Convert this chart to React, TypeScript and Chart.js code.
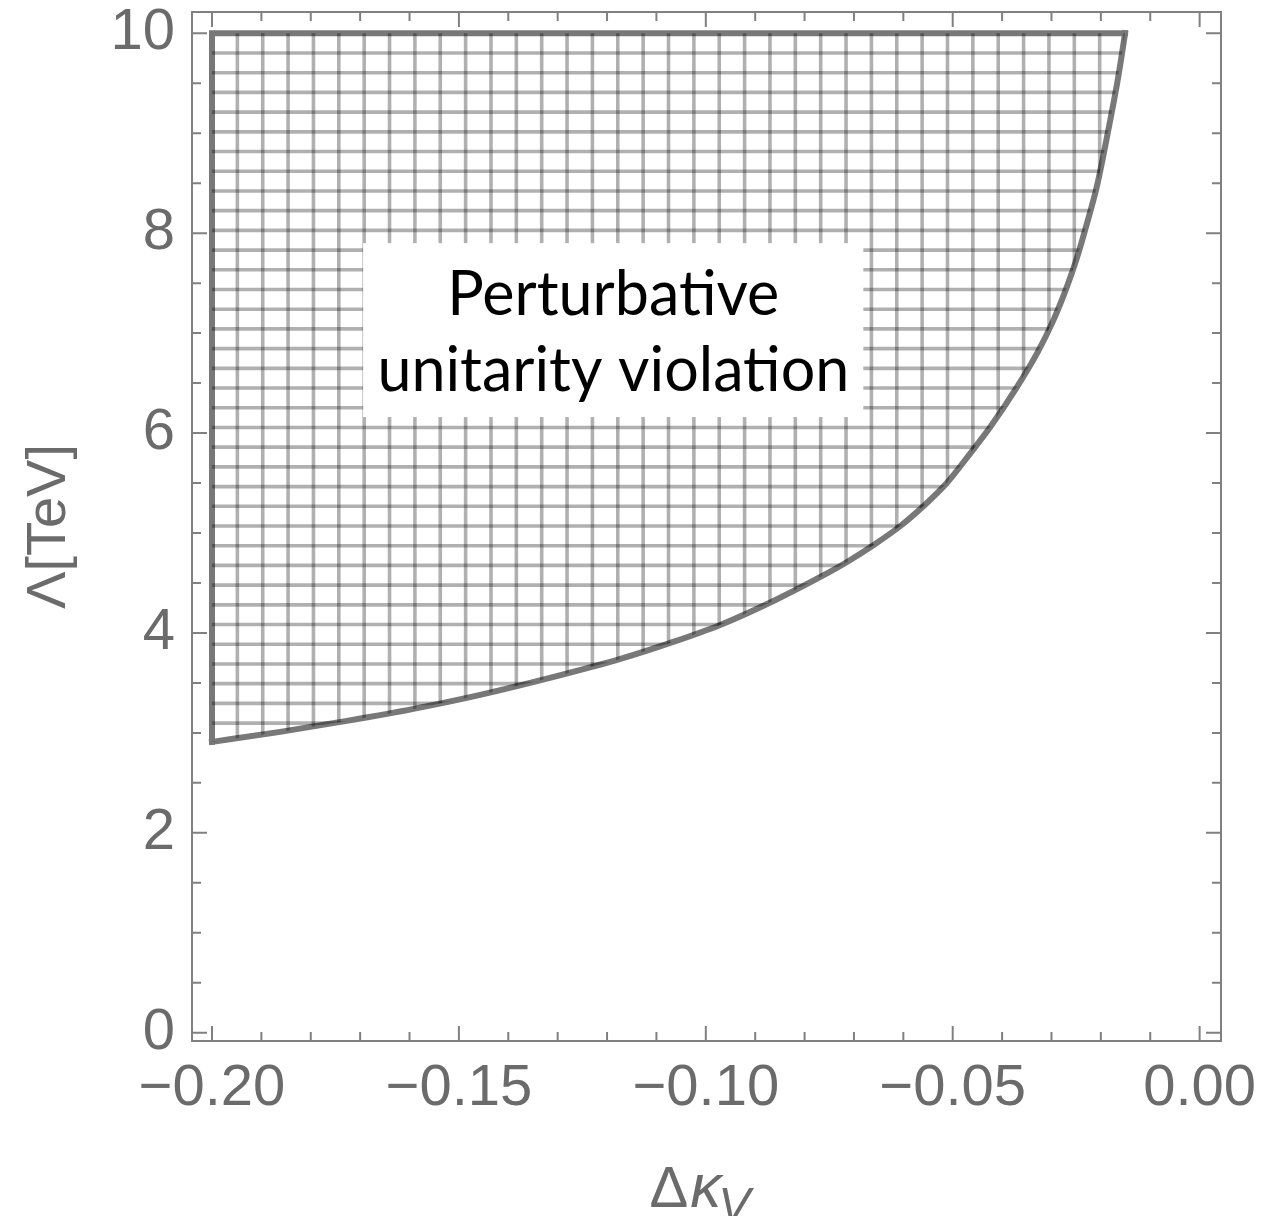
import React, { useEffect, useRef } from 'react';
import { Chart, registerables } from 'chart.js';

Chart.register(...registerables);

// Unitarity bound: Δκ_V (x) vs Λ [TeV] (y)
const kappaV = [
  -0.2, -0.1862, -0.1727, -0.1592, -0.1457, -0.13, -0.1173, -0.1072, -0.0971, -0.0863,
  -0.0768, -0.0714, -0.066, -0.0606, -0.0559, -0.0512, -0.0464, -0.0424, -0.037, -0.0329,
  -0.0296, -0.0269, -0.0248, -0.0228, -0.0208, -0.0194, -0.0181, -0.0167, -0.0159, -0.0151,
];
const lambdaTeV = [
  2.91, 3.01, 3.12, 3.24, 3.38, 3.57, 3.74, 3.9, 4.08, 4.32,
  4.56, 4.71, 4.88, 5.07, 5.27, 5.5, 5.8, 6.06, 6.46, 6.8,
  7.13, 7.46, 7.76, 8.1, 8.47, 8.8, 9.13, 9.5, 9.74, 10.0,
];
const regionTop = 10; // upper edge of the excluded region (Λ = 10 TeV)

const xMajorTicks = [-0.2, -0.15, -0.1, -0.05, 0];
const xTickLabels = ['\u22120.20', '\u22120.15', '\u22120.10', '\u22120.05', '0.00'];
const xMinorTicks = [
  -0.19, -0.18, -0.17, -0.16, -0.14, -0.13, -0.12, -0.11, -0.09, -0.08,
  -0.07, -0.06, -0.04, -0.03, -0.02, -0.01,
];
const yMajorTicks = [0, 2, 4, 6, 8, 10];
const yTickLabels = ['0', '2', '4', '6', '8', '10'];
const yMinorTicks = [0.5, 1, 1.5, 2.5, 3, 3.5, 4.5, 5, 5.5, 6.5, 7, 7.5, 8.5, 9, 9.5];

const labelLines = ['Perturbative', 'unitarity violation'];
const yTitle = '\u039B[TeV]';
const xTitleParts = ['\u0394', '\u03BA', 'V'];

// layout / style constants
const X_MIN = -0.20405;
const X_MAX = 0.00433;
const Y_MIN = -0.083;
const Y_MAX = 10.213;
const HATCH_DX = 0.005136;
const HATCH_DY = 0.1972;
const LABEL_BOX = { x0: -0.1694, x1: -0.0681, y0: 6.16, y1: 7.9 };
const LABEL_CX = -0.11873;
const LABEL_BASELINES = [7.18, 6.42];
const GRAY = '#6b6b6b';
const FRAME = '#808080';
const OUTLINE = '#787878';
const SANS = '"Liberation Sans", Arial, sans-serif';

const hatchPlugin = {
  id: 'hatch',
  afterDatasetsDraw(chart: any) {
    const { ctx, chartArea, scales } = chart;
    const x = scales.x, y = scales.y;
    ctx.save();
    ctx.beginPath();
    ctx.rect(chartArea.left, chartArea.top, chartArea.right - chartArea.left, chartArea.bottom - chartArea.top);
    ctx.clip();
    ctx.beginPath();
    kappaV.forEach((k, i) => {
      const px = x.getPixelForValue(k);
      const py = y.getPixelForValue(lambdaTeV[i]);
      if (i === 0) ctx.moveTo(px, py);
      else ctx.lineTo(px, py);
    });
    ctx.lineTo(x.getPixelForValue(kappaV[0]), y.getPixelForValue(regionTop));
    ctx.closePath();
    ctx.clip();
    ctx.strokeStyle = 'rgba(0,0,0,0.31)';
    ctx.lineWidth = 3.6;
    ctx.beginPath();
    for (let v = kappaV[0] + HATCH_DX; v < X_MAX; v += HATCH_DX) {
      const px = x.getPixelForValue(v);
      ctx.moveTo(px, chartArea.top);
      ctx.lineTo(px, chartArea.bottom);
    }
    ctx.stroke();
    ctx.beginPath();
    for (let w = regionTop - HATCH_DY; w > Y_MIN; w -= HATCH_DY) {
      const py = y.getPixelForValue(w);
      ctx.moveTo(chartArea.left, py);
      ctx.lineTo(chartArea.right, py);
    }
    ctx.stroke();
    ctx.restore();
  },
};

const labelPlugin = {
  id: 'regionLabel',
  afterDatasetsDraw(chart: any) {
    const { ctx, scales } = chart;
    const x = scales.x, y = scales.y;
    const x0 = x.getPixelForValue(LABEL_BOX.x0);
    const x1 = x.getPixelForValue(LABEL_BOX.x1);
    const yt = y.getPixelForValue(LABEL_BOX.y1);
    const yb = y.getPixelForValue(LABEL_BOX.y0);
    ctx.save();
    ctx.fillStyle = '#ffffff';
    ctx.fillRect(x0, yt, x1 - x0, yb - yt);
    ctx.fillStyle = '#000000';
    ctx.font = '61px Lato, "Open Sans", sans-serif';
    ctx.textAlign = 'center';
    ctx.textBaseline = 'alphabetic';
    const cx = x.getPixelForValue(LABEL_CX);
    labelLines.forEach((t, i) => ctx.fillText(t, cx, y.getPixelForValue(LABEL_BASELINES[i])));
    ctx.restore();
  },
};

const framePlugin = {
  id: 'frameTicks',
  afterDraw(chart: any) {
    const { ctx, chartArea, scales } = chart;
    const x = scales.x, y = scales.y;
    const { left, right, top, bottom } = chartArea;
    ctx.save();
    ctx.strokeStyle = FRAME;
    ctx.lineWidth = 2;
    ctx.strokeRect(left, top, right - left, bottom - top);
    ctx.beginPath();
    const xt = (vals: number[], len: number) => vals.forEach((v) => {
      const px = x.getPixelForValue(v);
      ctx.moveTo(px, bottom); ctx.lineTo(px, bottom - len);
      ctx.moveTo(px, top); ctx.lineTo(px, top + len);
    });
    const yt = (vals: number[], len: number) => vals.forEach((v) => {
      const py = y.getPixelForValue(v);
      ctx.moveTo(left, py); ctx.lineTo(left + len, py);
      ctx.moveTo(right, py); ctx.lineTo(right - len, py);
    });
    xt(xMajorTicks, 15);
    xt(xMinorTicks, 9);
    yt(yMajorTicks, 15);
    yt(yMinorTicks, 9);
    ctx.stroke();

    // x axis title: Δκ_V
    ctx.fillStyle = GRAY;
    ctx.textBaseline = 'alphabetic';
    ctx.textAlign = 'left';
    const fD = `58px ${SANS}`;
    const fK = `italic 62px ${SANS}`;
    const fV = `italic 48px ${SANS}`;
    ctx.font = fD; const wD = ctx.measureText(xTitleParts[0]).width;
    ctx.font = fK; const wK = ctx.measureText(xTitleParts[1]).width;
    ctx.font = fV; const wV = ctx.measureText(xTitleParts[2]).width;
    const total = wD + wK + wV;
    let sx = (left + right) / 2 - total / 2 - 6;
    const base = 1207;
    ctx.font = fD; ctx.fillText(xTitleParts[0], sx, base); sx += wD + 2;
    ctx.font = fK; ctx.fillText(xTitleParts[1], sx, base); sx += wK - 3;
    ctx.font = fV; ctx.fillText(xTitleParts[2], sx, base + 14);
    ctx.restore();
  },
};

export default function App() {
  const ref = useRef<HTMLCanvasElement>(null);
  useEffect(() => {
    document.body.style.margin = '0';
    let chart: Chart | null = null;
    let cancelled = false;
    const curve = kappaV.map((k, i) => ({ x: k, y: lambdaTeV[i] }));
    const edges = [
      { x: kappaV[kappaV.length - 1], y: regionTop },
      { x: kappaV[0], y: regionTop },
      { x: kappaV[0], y: lambdaTeV[0] },
    ];
    const make = () => {
      if (cancelled || !ref.current) return;
      chart = new Chart(ref.current, {
        type: 'scatter',
        data: {
          datasets: [
            {
              label: 'Unitarity bound',
              data: curve,
              showLine: true,
              fill: false,
              borderColor: OUTLINE,
              borderWidth: 6,
              borderCapStyle: 'square',
              pointRadius: 0,
              cubicInterpolationMode: 'monotone',
            } as any,
            {
              label: 'Region edge',
              data: edges,
              showLine: true,
              fill: false,
              borderColor: OUTLINE,
              borderWidth: 6,
              borderCapStyle: 'square',
              borderJoinStyle: 'miter',
              pointRadius: 0,
              tension: 0,
            } as any,
          ],
        },
        options: {
          animation: false,
          responsive: false,
          maintainAspectRatio: false,
          layout: { padding: { left: 0, top: 12, right: 42, bottom: 0 } },
          plugins: { legend: { display: false }, tooltip: { enabled: false } },
          scales: {
            x: {
              type: 'linear',
              position: 'bottom',
              min: X_MIN,
              max: X_MAX,
              afterBuildTicks: (s: any) => { s.ticks = xMajorTicks.map((v) => ({ value: v })); },
              afterFit: (s: any) => { s.height = 175; s.paddingLeft = 0; s.paddingRight = 0; },
              ticks: {
                callback: (_v: any, i: number) => xTickLabels[i],
                font: { size: 58, family: SANS },
                color: GRAY,
                padding: 13,
                maxRotation: 0,
                minRotation: 0,
                autoSkip: false,
              },
              grid: { display: false, drawTicks: false },
              border: { display: false },
            },
            y: {
              type: 'linear',
              position: 'left',
              min: Y_MIN,
              max: Y_MAX,
              afterBuildTicks: (s: any) => { s.ticks = yMajorTicks.map((v) => ({ value: v })); },
              afterFit: (s: any) => { s.width = 192; s.paddingTop = 0; s.paddingBottom = 0; },
              ticks: {
                callback: (_v: any, i: number) => yTickLabels[i],
                font: { size: 58, family: SANS },
                color: GRAY,
                padding: 17,
                autoSkip: false,
              },
              title: {
                display: true,
                text: yTitle,
                color: GRAY,
                font: { size: 56, family: SANS },
                padding: { top: 16, bottom: 0 },
              },
              grid: { display: false, drawTicks: false },
              border: { display: false },
            },
          },
        },
        plugins: [hatchPlugin, labelPlugin, framePlugin],
      });
    };
    const fs: any = (document as any).fonts;
    if (fs && fs.load) {
      Promise.all([
        fs.load('61px Lato'),
        fs.load(`58px ${SANS}`),
        fs.load(`italic 58px ${SANS}`),
      ]).then(make, make);
    } else make();
    return () => {
      cancelled = true;
      if (chart) chart.destroy();
    };
  }, []);
  return (
    <div style={{ width: 1263, height: 1216 }}>
      <canvas ref={ref} width={1263} height={1216} style={{ display: 'block' }} />
    </div>
  );
}
